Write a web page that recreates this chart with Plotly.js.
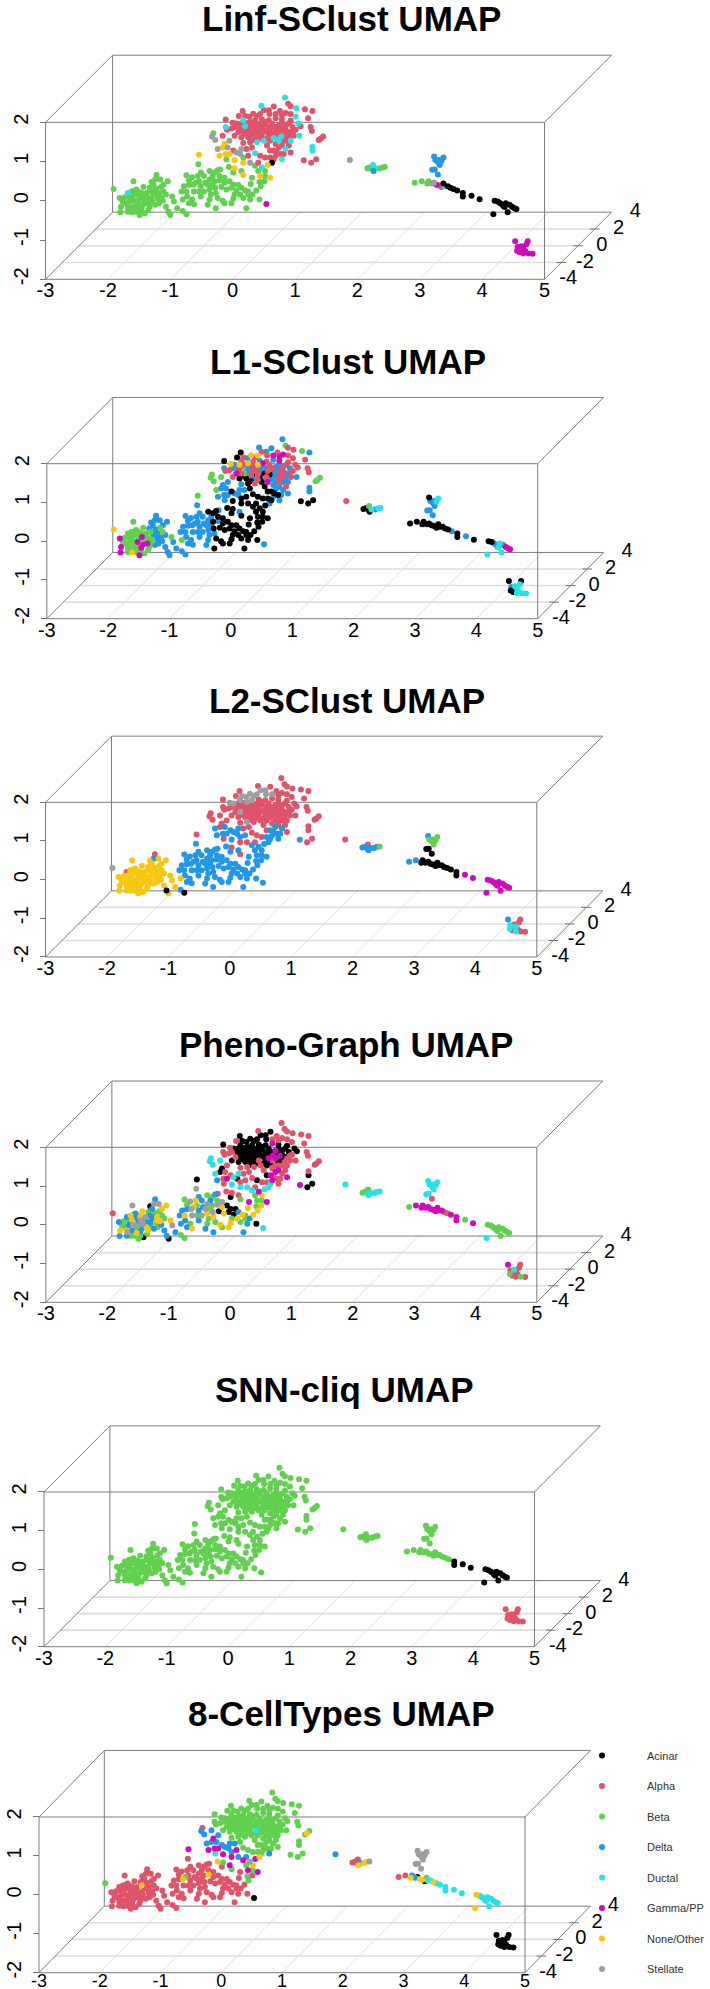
<!DOCTYPE html>
<html>
<head>
<meta charset="utf-8">
<script src="https://cdn.plot.ly/plotly-3.0.1.min.js"></script>
<style>html,body{margin:0;padding:0;background:#fff}</style>
</head>
<body>
<div id="chart"></div>
<script>
// Projected UMAP positions, in units of the front face (x axis, z axis)
const leftX=[-1.91,-1.59,-1.30,-1.24,-1.22,-1.04,-1.43,-1.62,-1.68,-1.57,-1.49,-1.81,-1.73,-1.67,-1.60,-1.53,-1.45,-1.38,-1.31,-1.23,-1.15,-1.11,-1.19,-1.27,-1.34,-1.42,-1.50,-1.58,-1.65,-1.71,-1.79,-1.80,-1.67,-1.60,-1.52,-1.43,-1.36,-1.29,-1.20,-1.14,-1.07,-0.97,-0.94,-0.89,-1.07,-1.03,-1.00,-1.46,-1.49,-1.41,-1.54,-1.33,-1.24,-1.68,-1.61,-1.18,-1.12];
const leftZ=[0.30,0.50,0.48,0.54,0.66,0.50,0.35,0.24,0.20,0.26,0.22,0.07,0.09,0.11,0.13,0.16,0.11,0.20,0.24,0.31,0.35,0.24,0.20,0.16,0.07,0.03,0.03,0.00,-0.02,-0.06,-0.15,-0.29,-0.19,-0.15,-0.10,-0.09,-0.06,-0.02,0.05,0.09,0.16,0.11,-0.02,-0.19,-0.15,-0.28,-0.36,-0.28,-0.36,-0.32,-0.28,-0.15,-0.10,-0.28,-0.29,-0.06,0.00];
const leftMoreX=[-1.54,-1.46,-1.33,-1.24,-1.52,-1.41,-1.62,-1.68,-1.57,-1.46,-1.35,-1.19,-1.30,-1.76,-1.11,-1.16,-1.27,-1.52];
const leftMoreZ=[0.29,0.20,0.33,0.20,-0.02,0.11,0.03,-0.15,-0.15,-0.17,-0.23,0.11,0.05,-0.02,0.41,0.54,0.41,-0.21];
const midX=[-0.55,-0.74,-0.65,-0.51,-0.46,-0.37,-0.29,-0.24,-0.20,-0.06,0.03,0.01,0.14,0.17,0.17,0.28,0.47,0.56,0.63,0.44,0.60,0.43,0.45,0.29,0.38,0.14,0.09,0.01,-0.05,-0.13,-0.21,-0.29,-0.37,-0.44,-0.54,-0.59,-0.63,-0.70,-0.78,-0.82,-0.74,-0.73,-0.80,-0.65,-0.70,-0.62,-0.54,-0.46,-0.37,-0.28,-0.18,-0.10,-0.02,-0.27,-0.35,-0.37,-0.40,-0.27,-0.13,-0.02,0.03,0.12,0.17,0.25,0.28,0.32,0.43,0.54,0.22,-0.80,-0.74,0.25,0.20,-0.16];
const midZ=[0.93,0.65,0.60,0.72,0.63,0.76,0.72,0.78,0.80,0.86,0.83,0.72,0.76,0.66,0.97,0.97,0.85,0.92,0.97,0.63,0.59,0.48,0.37,0.43,0.26,0.33,0.41,0.41,0.50,0.59,0.52,0.50,0.54,0.46,0.50,0.46,0.41,0.40,0.37,0.24,0.24,0.11,0.03,0.03,-0.06,-0.09,0.24,0.24,0.29,0.33,0.35,0.29,0.33,0.20,0.16,0.03,-0.10,-0.19,-0.06,-0.06,0.16,0.16,0.07,0.16,0.03,0.16,0.03,-0.08,-0.19,-0.26,-0.34,0.24,0.26,0.00];
const midMoreX=[-0.70,-0.56,-0.40,-0.32,-0.21,-0.13,-0.51,-0.32,-0.62,-0.51,0.06,-0.24,0.01,0.36,0.41,0.52,0.31,0.52,0.41,0.51];
const midMoreZ=[0.52,0.63,0.41,0.63,0.63,0.46,0.37,0.41,0.24,0.11,0.26,0.07,0.05,0.89,0.76,0.76,0.59,0.63,0.97,0.50];
const topX=[0.84,0.89,0.93,1.02,0.46,0.66,1.16,1.28,0.16,0.10,-0.11,0.76,0.85,1.01,1.21,0.50,0.44,0.39,0.27,0.59,0.69,0.00,-0.11,-0.16,-0.31,-0.33,-0.28,-0.09,0.06,0.17,0.28,0.36,0.47,0.58,0.69,0.79,0.93,1.05,1.09,1.25,1.27,1.45,1.38,1.41,0.12,0.20,0.31,0.41,0.52,0.63,0.74,0.85,0.96,0.09,0.17,0.28,0.39,0.50,0.60,0.70,0.81,0.90,1.01,0.03,0.25,0.36,0.47,0.58,0.69,0.78,0.89,0.98,1.07,0.28,0.39,0.50,0.60,0.74,0.85,0.17,0.22,0.44,0.58,0.36,0.69,0.79,0.44,0.55,0.22,0.33,0.90,0.14];
const topZ=[2.63,2.47,2.41,2.36,2.42,2.40,2.33,2.29,2.29,2.16,2.07,2.29,2.24,2.14,2.10,2.31,2.21,2.16,2.14,2.21,2.21,1.99,1.88,1.66,1.72,1.64,1.55,1.81,1.97,2.05,2.01,2.05,2.07,2.05,2.10,2.07,2.04,1.97,1.90,1.88,1.78,1.64,1.55,1.58,1.86,1.90,1.92,1.90,1.94,1.97,1.92,1.92,1.88,1.75,1.75,1.78,1.75,1.79,1.81,1.79,1.78,1.75,1.81,1.66,1.62,1.62,1.66,1.66,1.66,1.64,1.62,1.66,1.66,1.49,1.49,1.53,1.53,1.53,1.53,1.47,1.98,1.97,1.88,1.84,1.88,1.84,1.71,1.75,1.75,1.71,1.97,1.97];
const topMoreX=[0.14,0.25,0.36,0.47,0.52,0.63,0.74,0.85,0.79,0.98,0.93,0.85,0.74,0.63,0.41,0.31,0.20,0.14,0.33,0.44,0.55,0.66,0.79,0.93,0.69,0.55,0.79,0.90,-0.02,0.03,0.33,0.20,0.79,0.93,0.58];
const topMoreZ=[1.88,1.86,1.97,1.84,2.01,1.88,1.81,1.81,1.98,1.79,1.71,1.66,1.72,1.72,1.81,1.69,1.69,1.62,1.55,1.58,1.58,1.60,1.53,1.53,1.45,1.41,1.41,1.41,1.84,1.88,2.22,2.16,2.18,2.21,2.31];
const neckX=[-0.05,-0.13,-0.08,-0.16,-0.24,0.06,0.01,0.14,0.36,0.44,0.52,0.66,0.74,0.85,0.77,0.69,0.60,1.28,1.28,1.34,1.14,-0.21,-0.11,-0.10,0.17,0.03,0.79,-0.54,1.26];
const neckZ=[1.53,1.45,1.36,1.36,1.32,1.23,1.28,1.32,1.21,1.15,1.10,1.28,1.36,1.32,1.19,1.15,1.10,1.38,1.28,1.06,1.03,1.15,1.19,1.06,1.10,1.04,1.06,1.17,0.97];
const neckMoreX=[0.22,-0.05,0.12,0.31,0.60,0.82,0.71,0.93,0.25,0.66];
const neckMoreZ=[1.32,1.19,1.19,1.36,1.28,1.19,1.23,1.23,1.15,1.06];
const dotX=[1.88];
const dotZ=[1.04];
const isletX=[2.16,2.20,2.24,2.26,2.25,2.29,2.35,2.40,2.44];
const isletZ=[0.83,0.85,0.80,0.76,0.91,0.82,0.82,0.85,0.86];
const veeX=[3.23,3.25,3.29,3.32,3.35,3.38,3.31,3.20,3.24,3.29];
const veeZ=[1.13,1.04,0.99,0.91,1.02,1.10,1.04,0.79,0.80,0.67];
const trailX=[2.92,3.03,3.12,3.14,3.19,3.23,3.27,3.31,3.35,3.38,3.40,3.45,3.49,3.54,3.60];
const trailZ=[0.46,0.50,0.44,0.50,0.44,0.46,0.41,0.39,0.35,0.44,0.37,0.37,0.33,0.30,0.26];
const tailX=[3.69,3.69,3.83,3.96,4.20,4.25,4.29,4.33,4.36,4.38,4.44,4.48,4.52,4.55,4.18,4.41,4.34];
const tailZ=[0.20,0.11,0.13,0.04,0.00,-0.02,-0.06,-0.10,-0.16,-0.06,-0.10,-0.15,-0.19,-0.21,-0.34,-0.29,-0.13];
const clumpX=[4.53,4.73,4.71,4.57,4.63,4.56,4.60,4.66,4.69,4.74,4.81,4.66];
const clumpZ=[-1.03,-1.03,-1.11,-1.18,-1.16,-1.27,-1.31,-1.22,-1.28,-1.34,-1.35,-1.34];

// Category names and colours; digits in the label strings below index these
const cellTypes=["Acinar","Alpha","Beta","Delta","Ductal","Gamma/PP","None/Other","Stellate"];
const palette=["#000000","#DF536B","#61D04F","#2297E6","#28E2E5","#CD0BBC","#F5C710","#9E9E9E"];
const xTicks=[-3,-2,-1,0,1,2,3,4,5];
const zTicks=[-2,-1,0,1,2];
const depthTicks=[-4,-2,0,2,4];
const titles=["Linf-SClust UMAP","L1-SClust UMAP","L2-SClust UMAP","Pheno-Graph UMAP","SNN-cliq UMAP","8-CellTypes UMAP"];

// Cluster label per point, panel by panel: [base, {index: label}] or a full digit string
const linfLabels={
 left:["2",{8:4}],leftMore:"2",
 mid:["2",{10:6,13:6,14:6,15:7,16:4,17:6,18:0,19:6,20:6,67:5}],midMore:["2",{18:1}],
 top:["1",{0:4,3:4,4:4,13:4,22:4,24:2,25:7,26:7,29:4,37:4,45:4,69:4,72:4,74:4,75:4,77:4}],topMore:["1",{21:4,23:4}],
 neck:["1",{0:7,1:6,2:7,3:6,4:7,5:7,7:7,8:4,13:4,17:4,18:4,21:6,22:6,23:2,24:2,25:6,26:4,27:6}],neckMore:"1671111111",
 dot:"7",islet:"222344222",vee:"3333333333",trail:"222277511040000",tail:"0",clump:"5"};
const l1Labels={
 left:["2",{0:6,4:3,2:3,3:3,5:3,11:5,16:5,19:3,22:3,23:3,30:5,31:5,35:5,36:5,38:3,39:3,40:3,42:3,43:3,44:3,45:3,46:3,48:5,52:3,54:6,55:3,56:3}],
 leftMore:"223352222523223332",
 mid:"3333300030"+"0030000030"+"0000000000"+"3033333333"+"3323333330"+"0003333000"+"0000000303"+"3000",
 midMore:"33330033330000000000",
 top:"3211332300"+"0151116131"+"5632222131"+"6131351111"+"1222123131"+"3135130313"+"1311030131"+"3130105333"+"1631131021"+"36",
 topMore:"1313513131"+"3130130001"+"3313303113"+"61513",
 neck:"3333230300"+"0033030330"+"033300320",neckMore:"3330030300",
 dot:"1",islet:"003024344",vee:"0333443333",trail:"000000000000003",tail:"00300033443555443",clump:"004340044444"};
const l2Labels={
 left:["6",{0:7,3:3,4:1,8:1,45:0}],leftMore:"6",
 mid:["3",{10:1,13:1,14:1,15:1,42:6,70:0}],midMore:["3",{18:1}],
 top:["1",{15:7,16:7,17:7,18:7,19:7,20:7,21:7,28:7,29:7,30:7,31:7,54:7,73:7}],topMore:["1",{30:7,31:7,34:7}],
 neck:"1131333311"+"1333333111"+"333133311",neckMore:"1331133133",
 dot:"1",islet:"333313332",vee:"3222222000",trail:"330000000000000",tail:"00555555555555555",clump:"311414141114"};
const phenoLabels={
 left:"1707366633"+"2322637732"+"2263373732"+"6373236226"+"2673330220"+"2633223",
 leftMore:"362372362326326736",
 mid:"7273322311"+"1012445442"+"5266630007"+"7273267333"+"6332362767"+"0606223326"+"2622330432"+"2266",
 midMore:"26732632730264265216",
 top:"1111101101"+"0111100000"+"1114444100"+"0000500001"+"1111000000"+"5001000005"+"5010001010"+"1111110111"+"0000000000"+"00",
 topMore:["0",{9:1,10:1,12:5,13:5,22:1,23:1,24:1,25:1,26:5,27:1,28:1,29:1,32:1,33:1}],
 neck:"1010441410"+"1551151100"+"531114100",neckMore:"1501011514",
 dot:"4",islet:"224424444",vee:"4444444441",trail:"255555555555115",tail:"55252222222222422",clump:"511142111211"};
const snnLabels={left:"2",leftMore:"2",mid:"2",midMore:"2",top:"2",topMore:"2",neck:"2",neckMore:"2",dot:"2",islet:"2",vee:"2",trail:"2",tail:"0",clump:"1"};
const typeLabels={
 left:["1",{0:2,18:6}],leftMore:"1",
 mid:["1",{9:6,10:2,12:5,13:2,14:5,15:3,16:7,17:5,18:6,19:5,20:5,21:2,22:2,30:6,35:2,36:6,67:0}],
 midMore:["1",{13:5,14:2,15:6,17:2,18:3}],
 top:["2",{23:3,24:1,25:3,26:3,43:6,67:4}],topMore:"2",
 neck:"3533333322"+"2222222222"+"255435352",neckMore:"3532222252",
 dot:"3",islet:"111613667",vee:"7",trail:"116330660244644",tail:"44446444444444644",clump:"0"};
const panelLabels=[linfLabels,l1Labels,l2Labels,phenoLabels,snnLabels,typeLabels];

// Page layout: front face corners in page pixels for each panel
const W=710,H=1989;
const frames=[
 {x0:45.5,x1:544.5,top:122.3,bot:279.3,ty:19,tx:351},
 {x0:46.8,x1:537.7,top:463.7,bot:618.7,ty:361,tx:348},
 {x0:45.5,x1:536.8,top:802.3,bot:957,ty:700,tx:347},
 {x0:45.9,x1:536.8,top:1147.3,bot:1302.3,ty:1044,tx:346},
 {x0:44,x1:534.5,top:1492,bot:1646.7,ty:1389,tx:344},
 {x0:39,x1:525,top:1817,bot:1972.7,ty:1713,tx:341}];
const backX=1.075, backZ=1.71;
const FONT="Liberation Sans Narrow, Arial Narrow, Liberation Sans, sans-serif";

function expand(spec,n){
  if(typeof spec==="string") return spec.length===n?spec.split(""):Array(n).fill(spec[0]);
  const a=Array(n).fill(spec[0]);
  Object.keys(spec[1]).forEach(k=>{a[k]=String(spec[1][k]);});
  return a;
}
const groups=[["left",leftX,leftZ],["leftMore",leftMoreX,leftMoreZ],["mid",midX,midZ],["midMore",midMoreX,midMoreZ],["top",topX,topZ],["topMore",topMoreX,topMoreZ],["neck",neckX,neckZ],["neckMore",neckMoreX,neckMoreZ],["dot",dotX,dotZ],["islet",isletX,isletZ],["vee",veeX,veeZ],["trail",trailX,trailZ],["tail",tailX,tailZ],["clump",clumpX,clumpZ]];

const data=[];
const layout={width:W,height:H,margin:{l:0,r:0,t:0,b:0},paper_bgcolor:"#fff",plot_bgcolor:"rgba(0,0,0,0)",
  showlegend:true,hovermode:false,annotations:[],
  legend:{x:1,xanchor:"right",y:1-1741/H,yanchor:"top",itemwidth:80,traceorder:"grouped",tracegroupgap:11.5,
    font:{family:FONT,size:11,color:"#333"},bgcolor:"rgba(0,0,0,0)",itemclick:false,itemdoubleclick:false}};

frames.forEach((f,i)=>{
  const suffix=i===0?"":String(i+1);
  const xa="x"+suffix, ya="y"+suffix;
  const ux=(f.x1-f.x0)/8, uz=(f.bot-f.top)/4;
  const domTop=f.top-(backZ*uz)-8, domBot=f.bot+3;
  const lastPanel=i===frames.length-1;
  layout["xaxis"+suffix]={domain:[0,1],range:[-3-f.x0/ux,-3+(W-f.x0)/ux],anchor:"free",position:1-f.bot/H,
    tickmode:"array",tickvals:xTicks,ticktext:xTicks.map(String),ticks:"",showgrid:false,zeroline:false,showline:false,
    tickfont:{family:FONT,size:lastPanel?18:20,color:"#000"},fixedrange:true,ticklabelstandoff:lastPanel?-5:-3};
  layout["yaxis"+suffix]={domain:[1-domBot/H,1-domTop/H],range:[-2-(domBot-f.bot)/uz,2+(f.top-domTop)/uz],anchor:"free",position:f.x0/W,
    tickmode:"array",tickvals:zTicks,ticktext:zTicks.map(String),ticks:"outside",ticklen:6,tickcolor:"#777",tickwidth:1,tickangle:-90,
    showgrid:false,zeroline:false,showline:false,tickfont:{family:FONT,size:20,color:"#000"},fixedrange:true,ticklabelstandoff:4};

  // Base-plane grid
  const gx=[],gz=[];
  xTicks.slice(1,-1).forEach(t=>{gx.push(t,t+backX,null);gz.push(-2,-2+backZ,null);});
  data.push({type:"scatter",mode:"lines",x:gx,y:gz,xaxis:xa,yaxis:ya,showlegend:false,hoverinfo:"skip",line:{color:"#d9d9d9",width:0.8}});
  const hx=[],hz=[];
  depthTicks.slice(1,-1).forEach(d=>{const t=(d+4)/8;hx.push(-3+t*backX,5+t*backX,null);hz.push(-2+t*backZ,-2+t*backZ,null);});
  data.push({type:"scatter",mode:"lines",x:hx,y:hz,xaxis:xa,yaxis:ya,showlegend:false,hoverinfo:"skip",line:{color:"#dedede",width:1.6}});

  // Box
  const bx=[-3,5,5,-3,-3,null,-3,-3+backX,5+backX,5,null,-3+backX,-3+backX,null,-3,-3+backX,5+backX,5];
  const bz=[-2,-2,2,2,-2,null,2,2+backZ,2+backZ,2,null,2+backZ,-2+backZ,null,-2,-2+backZ,-2+backZ,-2];
  data.push({type:"scatter",mode:"lines",x:bx,y:bz,xaxis:xa,yaxis:ya,showlegend:false,hoverinfo:"skip",line:{color:"#7d7d7d",width:1}});

  // Depth ticks and labels
  const tx=[],tz=[],lx=[],lz=[];
  depthTicks.forEach(d=>{
    const t=(d+4)/8, ex=5+t*backX, ez=-2+t*backZ;
    if(d>-4&&d<4){tx.push(ex-0.08,ex+0.08,null);tz.push(ez,ez,null);}
    lx.push(ex+0.38);lz.push(ez);
  });
  data.push({type:"scatter",mode:"lines",x:tx,y:tz,xaxis:xa,yaxis:ya,showlegend:false,hoverinfo:"skip",line:{color:"#777",width:1}});
  data.push({type:"scatter",mode:"text",x:lx,y:lz,text:depthTicks.map(String),textposition:"middle center",xaxis:xa,yaxis:ya,
    showlegend:false,hoverinfo:"skip",textfont:{family:FONT,size:20,color:"#000"},cliponaxis:false});

  // Points by cluster
  const byCat=cellTypes.map(()=>({x:[],y:[]}));
  groups.forEach(([name,gxs,gzs])=>{
    const labs=expand(panelLabels[i][name],gxs.length);
    gxs.forEach((v,k)=>{const c=byCat[+labs[k]];c.x.push(v);c.y.push(gzs[k]);});
  });
  let order=cellTypes.map((_,c)=>c);
  if(!lastPanel) order.sort((a,b)=>byCat[b].x.length-byCat[a].x.length);
  order.forEach(c=>{
    data.push({type:"scatter",mode:"markers",x:byCat[c].x,y:byCat[c].y,xaxis:xa,yaxis:ya,name:cellTypes[c],
      legendgroup:lastPanel?cellTypes[c]:undefined,showlegend:lastPanel,hoverinfo:"skip",cliponaxis:false,
      marker:{color:palette[c],size:6,line:{width:0}}});
  });

  layout.annotations.push({xref:"paper",yref:"paper",x:f.tx/W,y:1-f.ty/H,xanchor:"center",yanchor:"middle",showarrow:false,
    text:"<b>"+titles[i]+"</b>",font:{family:FONT,size:35,color:"#000"}});
});

Plotly.newPlot("chart",data,layout,{displayModeBar:false});
</script>
</body>
</html>
